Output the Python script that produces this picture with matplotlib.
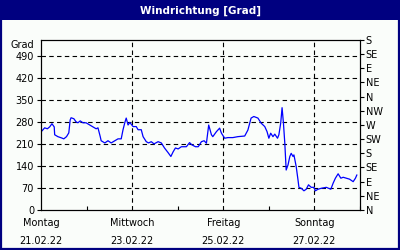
import numpy as np
import matplotlib
matplotlib.use('Agg')
import matplotlib.pyplot as plt
from matplotlib.patches import Rectangle

# days since Monday 21.02.22 00:00
days = [0.00, 0.02, 0.08, 0.14, 0.19, 0.24, 0.29, 0.30, 0.37, 0.45, 0.50, 0.56, 0.61,
        0.64, 0.66, 0.72, 0.77, 0.81, 0.86, 0.92, 0.99, 1.07, 1.14, 1.21, 1.25, 1.30,
        1.32, 1.40, 1.47, 1.54, 1.62, 1.69, 1.76, 1.80, 1.84, 1.87, 1.91, 1.95, 2.02,
        2.09, 2.13, 2.20, 2.24, 2.31, 2.36, 2.42, 2.48, 2.57, 2.64, 2.71, 2.79, 2.85,
        2.90, 2.95, 3.01, 3.08, 3.19, 3.26, 3.31, 3.39, 3.45, 3.52, 3.58, 3.63, 3.68,
        3.74, 3.77, 3.85, 3.92, 3.96, 4.03, 4.10, 4.21, 4.32, 4.47, 4.54, 4.61, 4.67,
        4.76, 4.83, 4.91, 4.96, 5.00, 5.04, 5.09, 5.13, 5.19, 5.22, 5.26, 5.29, 5.32,
        5.35, 5.38, 5.42, 5.46, 5.49, 5.53, 5.55, 5.60, 5.64, 5.66, 5.71, 5.77, 5.82,
        5.87, 5.93, 5.99, 6.02, 6.08, 6.15, 6.26, 6.36, 6.41, 6.46, 6.52, 6.58, 6.63,
        6.70, 6.77, 6.85, 6.90, 6.93]
grad = [258, 251, 261, 258, 264, 274, 264, 239, 233, 229, 226, 233, 245,
        286, 293, 290, 280, 277, 283, 277, 277, 270, 264, 258, 261, 233,
        220, 213, 220, 213, 220, 226, 226, 255, 278, 292, 270, 278, 265,
        265, 255, 255, 233, 217, 213, 217, 210, 217, 213, 197, 182, 170,
        185, 197, 194, 201, 201, 214, 207, 201, 201, 217, 220, 212, 270,
        239, 233, 249, 260, 244, 228, 230, 230, 233, 235, 254, 292, 297,
        292, 276, 265, 249, 228, 244, 233, 241, 228, 239, 276, 325, 276,
        212, 127, 143, 170, 180, 170, 175, 138, 95, 72, 69, 61, 66,
        80, 72, 72, 61, 66, 69, 72, 66, 85, 101, 115, 101, 104,
        101, 98, 90, 101, 111]

grad_ticks = [0, 70, 140, 210, 280, 350, 420, 490]
dir_ticks = [0, 45, 90, 135, 180, 225, 270, 315, 360, 405, 450, 495, 540]
dir_labels = ['N', 'NE', 'E', 'SE', 'S', 'SW', 'W', 'NW', 'N', 'NE', 'E', 'SE', 'S']
day_ticks = [0, 2, 4, 6]
day_labels = ['Montag\n21.02.22', 'Mittwoch\n23.02.22', 'Freitag\n25.02.22', 'Sonntag\n27.02.22']

navy = '#000080'
bg = '#FAFDFA'
fs = 7

fig = plt.figure(figsize=(4, 2.5), dpi=100, facecolor=bg)
fig.patches.append(Rectangle((0, 0.92), 1, 0.08, transform=fig.transFigure,
                             facecolor=navy, edgecolor='none', zorder=0))
fig.patches.append(Rectangle((0.0025, 0.004), 0.995, 0.99, transform=fig.transFigure,
                             facecolor='none', edgecolor=navy, linewidth=1.6, zorder=5))
fig.text(0.5, 0.958, 'Windrichtung [Grad]', color='white', fontsize=7.5,
         fontweight='bold', ha='center', va='center')

ax = fig.add_axes([0.1025, 0.16, 0.7975, 0.68])
ax.set_facecolor(bg)
ax.plot(days, grad, color='#0000FF', linewidth=0.9)
ax.set_xlim(0, 7)
ax.set_ylim(0, 540)

ax.set_yticks(grad_ticks)
ax.set_yticklabels([str(v) for v in grad_ticks], fontsize=fs)
ax.set_xticks(day_ticks)
ax.set_xticklabels(day_labels, fontsize=fs)
for lab in ax.get_xticklabels():
    lab.set_linespacing(1.9)
ax.set_xticks([1, 3, 5, 7], minor=True)
ax.tick_params(axis='y', direction='out', length=3, width=0.8, pad=2)
ax.tick_params(axis='x', which='major', direction='in', length=0, pad=6)
ax.tick_params(axis='x', which='minor', direction='in', length=3, width=0.8)

for v in grad_ticks[1:]:
    ax.axhline(v, color='black', linestyle=(0, (4, 3)), linewidth=0.8, zorder=1)
for d in day_ticks[1:]:
    ax.axvline(d, color='black', linestyle=(0, (4, 3)), linewidth=0.8, zorder=1)

for s in ax.spines.values():
    s.set_linewidth(0.8)

ax.text(-0.02, 1.0, 'Grad', transform=ax.transAxes, fontsize=fs,
        ha='right', va='top')

ax2 = ax.twinx()
ax2.set_ylim(0, 540)
ax2.set_yticks(dir_ticks)
ax2.set_yticklabels(dir_labels, fontsize=fs)
ax2.tick_params(axis='y', direction='out', length=3, width=0.8, pad=1)

fig.savefig('out.png', dpi=100, facecolor=bg)
